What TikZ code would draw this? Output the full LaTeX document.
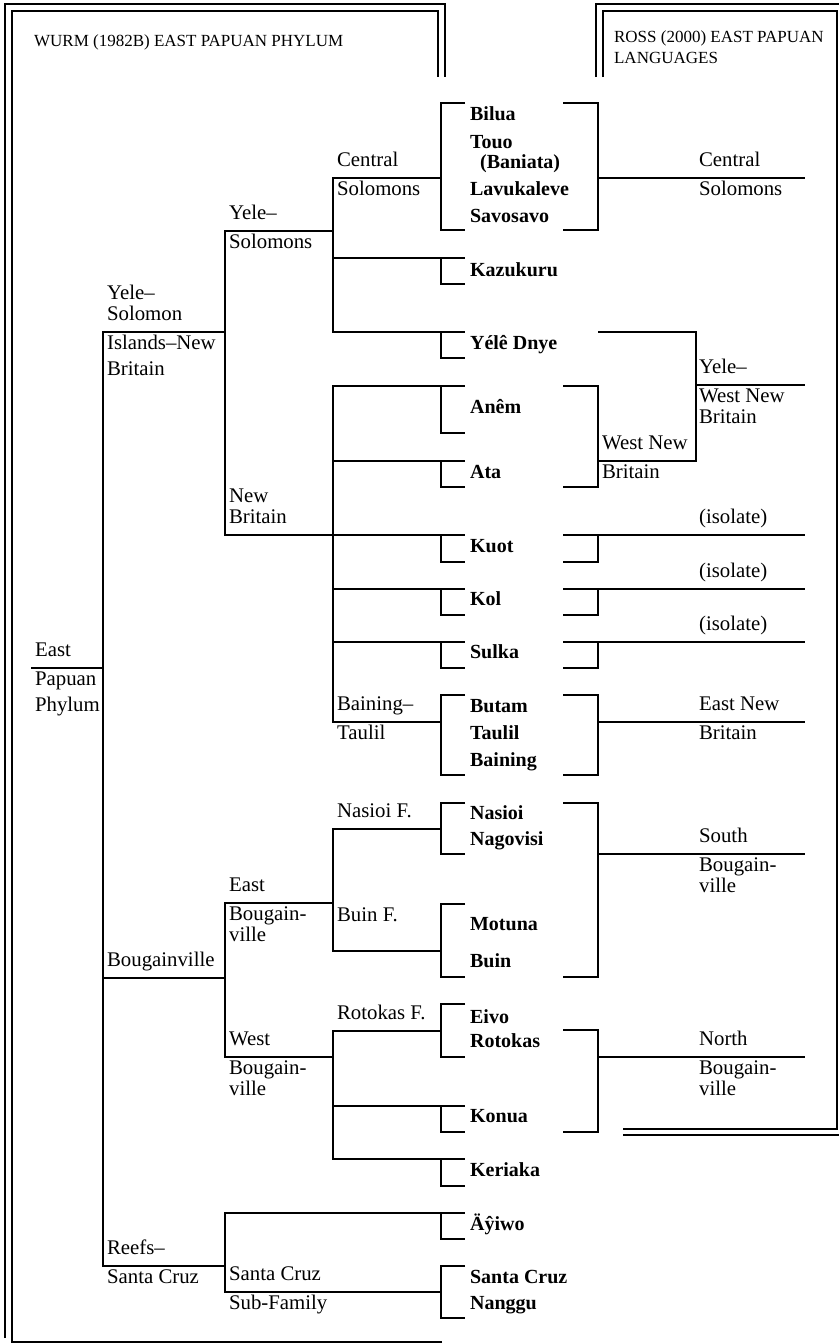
\documentclass[tikz,border=0pt]{standalone}
\usepackage{fontspec}
\setmainfont{Liberation Serif}
\usepackage{tikz}
\usetikzlibrary{positioning}
\tikzset{
  rule/.style={line width=1.1pt},
  lang/.style={font=\bfseries,anchor=base west,inner sep=0pt},
  ulbl/.style={anchor=south west,inner sep=0pt,xshift=1.5pt,yshift=5pt,
               text depth=0pt,align=left},
  dlbl/.style={anchor=north west,inner sep=0pt,xshift=1.5pt,yshift=-1.2pt,
               align=left},
  rulbl/.style={ulbl,xshift=-55pt},
  rdlbl/.style={dlbl,xshift=-55pt},
  hdr/.style={font=\fontsize{8.5}{10.5}\selectfont,inner sep=0pt,align=left},
  lbrk/.style={to path={([xshift=12pt]\tikztostart) -- (\tikztostart)
               -- (\tikztotarget) -- ([xshift=12pt]\tikztotarget)}},
  rbrk/.style={to path={([xshift=-17.5pt]\tikztostart) -- (\tikztostart)
               -- (\tikztotarget) -- ([xshift=-17.5pt]\tikztotarget)}},
}

\begin{document}
\begin{tikzpicture}[x=0.5pt,y=-0.5pt,line width=1.1pt,
  font=\fontsize{10.4}{10.5}\selectfont]
\useasboundingbox (0,0) rectangle (839,1344);

% frames and headings
\draw[rule] (5,1338) -- (5,4) -- (445,4) -- (445,77);
\draw[rule] (442,1342) -- (12,1342) -- (12,11) -- (438,11) -- (438,77);
\draw[rule] (596,77) -- (596,4) -- (846,4) -- (846,1135) -- (623,1135);
\draw[rule] (603,77) -- (603,11) -- (837,11) -- (837,1129) -- (623,1129);
\node[hdr,anchor=base west](wurm) at (33,46) {WURM (1982B) EAST PAPUAN PHYLUM};
\node[hdr,anchor=north west](ross) at (613,30) {ROSS (2000) EAST PAPUAN\\LANGUAGES};

% Wurm tree
\coordinate (EPP0) at (31,668);
\coordinate (EPP)  at (103,668);
\coordinate (YSNB) at (225,332);
\coordinate (BOUG) at (225,978);
\coordinate (RSC)  at (225,1266);
\coordinate (YS)   at (333,231);
\coordinate (NB)   at (333,535);
\coordinate (EB)   at (333,903);
\coordinate (WB)   at (333,1057);
\coordinate (CS)   at (441,178);
\coordinate (BT)   at (441,722);
\coordinate (NSF)  at (441,829);
\coordinate (BNF)  at (441,951);
\coordinate (RKF)  at (441,1031);
\coordinate (SCS)  at (441,1292);
\coordinate (KAZ)  at (441,258);
\coordinate (YD)   at (441,332);
\coordinate (ANM)  at (441,386);
\coordinate (ATA)  at (441,461);
\coordinate (KUO)  at (441,535);
\coordinate (KOL)  at (441,589);
\coordinate (SUL)  at (441,642);
\coordinate (KON)  at (441,1106);
\coordinate (KER)  at (441,1159);
\coordinate (AYI)  at (441,1213);

\draw (EPP0) -- node[pos=0,ulbl](lE1){East} node[pos=0,dlbl](lE2){Papuan\\[2.5pt]Phylum} (EPP);
\draw (EPP) |- node[ulbl](lY1){Yele--\\Solomon} node[dlbl](lY2){Islands--New\\[2.5pt]Britain} (YSNB);
\draw (EPP) |- node[ulbl](lB1){Bougainville} (BOUG);
\draw (EPP) |- node[ulbl](lR1){Reefs--} node[dlbl](lR2){Santa Cruz} (RSC);
\draw (YSNB) |- node[ulbl](lS1){Yele--} node[dlbl](lS2){Solomons} (YS);
\draw (YSNB) |- node[ulbl](lN1){New\\Britain} (NB);
\draw (BOUG) |- node[ulbl](lEB1){East} node[dlbl](lEB2){Bougain-\\ville} (EB);
\draw (BOUG) |- node[ulbl](lWB1){West} node[dlbl](lWB2){Bougain-\\ville} (WB);
\draw (RSC) |- node[ulbl](lSC1){Santa Cruz} node[dlbl](lSC2){Sub-Family} (SCS);
\draw (RSC) |- (AYI) -- ++(12pt,0pt);
\draw (YS) |- node[ulbl](lC1){Central} node[dlbl](lC2){Solomons} (CS);
\draw (YS) |- (KAZ) -- ++(12pt,0pt);
\draw (YS) |- (YD) -- ++(12pt,0pt);
\draw (NB) |- (ANM) -- ++(12pt,0pt);
\draw (NB) |- (ATA) -- ++(12pt,0pt);
\draw (NB) |- (KUO) -- ++(12pt,0pt);
\draw (NB) |- (KOL) -- ++(12pt,0pt);
\draw (NB) |- (SUL) -- ++(12pt,0pt);
\draw (NB) |- node[ulbl](lBT1){Baining--} node[dlbl](lBT2){Taulil} (BT);
\draw (EB) |- node[ulbl](lNF){Nasioi F.} (NSF);
\draw (EB) |- (BNF);
\node[anchor=base west,inner sep=0pt](lBF) at (336,921) {Buin F.};
\draw (WB) |- node[ulbl](lRF){Rotokas F.} (RKF);
\draw (WB) |- (KON) -- ++(12pt,0pt);
\draw (WB) |- (KER) -- ++(12pt,0pt);

% left brackets
\draw ([yshift=37.5pt]CS) to[lbrk] ([yshift=-26pt]CS);
\draw ([yshift=13.5pt]BT) to[lbrk] ([yshift=-26.5pt]BT);
\draw ([yshift=13pt]NSF) to[lbrk] ([yshift=-12.5pt]NSF);
\draw ([yshift=23.5pt]BNF) to[lbrk] ([yshift=-13pt]BNF);
\draw ([yshift=13.5pt]RKF) to[lbrk] ([yshift=-13pt]RKF);
\draw ([yshift=13pt]SCS) to[lbrk] ([yshift=-13pt]SCS);
\draw (KAZ) -- ++(0,26) -- ++(12pt,0pt);
\draw (YD)  -- ++(0,26) -- ++(12pt,0pt);
\draw (ANM) -- ++(0,47) -- ++(12pt,0pt);
\draw (ATA) -- ++(0,26) -- ++(12pt,0pt);
\draw (KUO) -- ++(0,27) -- ++(12pt,0pt);
\draw (KOL) -- ++(0,26) -- ++(12pt,0pt);
\draw (SUL) -- ++(0,26) -- ++(12pt,0pt);
\draw (KON) -- ++(0,26) -- ++(12pt,0pt);
\draw (KER) -- ++(0,27) -- ++(12pt,0pt);
\draw (AYI) -- ++(0,26) -- ++(12pt,0pt);

% languages
\node[lang](bilua)      at (469,120)  {Bilua};
\node[lang](touo)       at (469,148)  {Touo};
\node[lang](baniata)    at (479,168)  {(Baniata)};
\node[lang](lavukaleve) at (469,195)  {Lavukaleve};
\node[lang](savosavo)   at (469,222)  {Savosavo};
\node[lang](kazukuru)   at (469,276)  {Kazukuru};
\node[lang](yeledn)     at (469,349)  {Yélê Dnye};
\node[lang](anem)       at (469,413)  {Anêm};
\node[lang](ata)        at (469,478)  {Ata};
\node[lang](kuot)       at (469,552)  {Kuot};
\node[lang](kol)        at (469,605)  {Kol};
\node[lang](sulka)      at (469,658)  {Sulka};
\node[lang](butam)      at (469,712)  {Butam};
\node[lang](taulil)     at (469,739)  {Taulil};
\node[lang](baining)    at (469,766)  {Baining};
\node[lang](nasioi)     at (469,819)  {Nasioi};
\node[lang](nagovisi)   at (469,845)  {Nagovisi};
\node[lang](motuna)     at (469,930)  {Motuna};
\node[lang](buin)       at (469,967)  {Buin};
\node[lang](eivo)       at (469,1023) {Eivo};
\node[lang](rotokas)    at (469,1047) {Rotokas};
\node[lang](konua)      at (469,1122) {Konua};
\node[lang](keriaka)    at (469,1176) {Keriaka};
\node[lang](ayiwo)      at (469,1230) {Äŷiwo};
\node[lang](santacruz)  at (469,1283) {Santa Cruz};
\node[lang](nanggu)     at (469,1309) {Nanggu};

% Ross groups
\coordinate (rCS)  at (598,178);  \coordinate (eCS)  at (805,178);
\coordinate (rYD)  at (598,332);
\coordinate (YWNB) at (696,385);  \coordinate (eYW)  at (805,385);
\coordinate (rWNB) at (598,461);
\coordinate (rKUO) at (598,535);  \coordinate (eKUO) at (805,535);
\coordinate (rKOL) at (598,589);  \coordinate (eKOL) at (805,589);
\coordinate (rSUL) at (598,642);  \coordinate (eSUL) at (805,642);
\coordinate (rENB) at (598,722);  \coordinate (eENB) at (805,722);
\coordinate (rSB)  at (598,854);  \coordinate (eSB)  at (805,854);
\coordinate (rNB)  at (598,1057); \coordinate (eNB)  at (805,1057);

\draw ([yshift=37.5pt]rCS) to[rbrk] ([yshift=-26pt]rCS);
\draw (rCS) -- (eCS) node[rulbl](rC1){Central} node[rdlbl](rC2){Solomons};
\draw (rYD) -| (YWNB);
\draw ([yshift=37.5pt]rWNB) to[rbrk] ([yshift=-13pt]rWNB);
\draw (rWNB) -| node[pos=0,ulbl](rW1){West New} node[pos=0,dlbl](rW2){Britain} (YWNB);
\draw (YWNB) -- (eYW) node[rulbl](rY1){Yele--} node[rdlbl](rY2){West New\\Britain};
\draw ([xshift=-17.5pt]rKUO) -- (eKUO) node[rulbl](rI1){(isolate)};
\draw (rKUO) -- ++(0,27) -- ++(-17.5pt,0pt);
\draw ([xshift=-17.5pt]rKOL) -- (eKOL) node[rulbl](rI2){(isolate)};
\draw (rKOL) -- ++(0,26) -- ++(-17.5pt,0pt);
\draw ([xshift=-17.5pt]rSUL) -- (eSUL) node[rulbl](rI3){(isolate)};
\draw (rSUL) -- ++(0,26) -- ++(-17.5pt,0pt);
\draw ([yshift=13.5pt]rENB) to[rbrk] ([yshift=-26.5pt]rENB);
\draw (rENB) -- (eENB) node[rulbl](rE1){East New} node[rdlbl](rE2){Britain};
\draw ([yshift=25.5pt]rSB) to[rbrk] ([yshift=-61.5pt]rSB);
\draw (rSB) -- (eSB) node[rulbl](rS1){South} node[rdlbl](rS2){Bougain-\\ville};
\draw ([yshift=13.5pt]rNB) to[rbrk] ([yshift=-37.5pt]rNB);
\draw (rNB) -- (eNB) node[rulbl](rN1){North} node[rdlbl](rN2){Bougain-\\ville};
\end{tikzpicture}
\end{document}
